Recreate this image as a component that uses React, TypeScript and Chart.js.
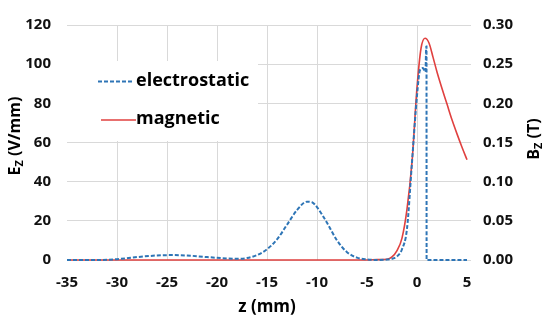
import React, { useEffect, useRef } from "react";
import { Chart, registerables } from "chart.js";

Chart.register(...registerables);

// Electrostatic field E_z (V/mm) vs z (mm)
const zElectro = [-35, -32, -30, -28, -26, -24.5, -23, -21, -19, -18, -17, -16, -15, -14, -13, -12, -11, -10.5, -10, -9, -8, -7, -6, -5, -4, -3, -2.5, -2, -1.5, -1, -0.5, 0, 0.3, 0.6, 0.85, 0.92, 0.95, 0.96, 5];
const eElectro = [0, 0, 0.4, 1.5, 2.3, 2.5, 2.3, 1.5, 0.8, 0.6, 1.0, 2.5, 5.5, 10.5, 18, 25.5, 29.8, 29.5, 27, 19, 10, 4, 1.2, 0.3, 0, 0.2, 0.6, 1.8, 5.5, 16, 50, 84, 97, 98, 96, 109, 109, 0, 0];

// Magnetic field B_z (T) vs z (mm)
const zMagnetic = [-35, -10, -5, -4, -3, -2.5, -2, -1.5, -1, -0.5, 0, 0.4, 0.8, 1.2, 1.6, 2, 2.5, 3, 3.5, 4, 4.5, 5];
const bMagnetic = [0, 0, 0, 0.0005, 0.001, 0.004, 0.012, 0.028, 0.065, 0.125, 0.22, 0.27, 0.283, 0.277, 0.259, 0.24, 0.219, 0.199, 0.179, 0.161, 0.144, 0.128];

const xTickValues = [-35, -30, -25, -20, -15, -10, -5, 0, 5];
const seriesNames = ["electrostatic", "magnetic"];
const xTitle = "z (mm)";

const BLUE = "#2E75B6";
const RED = "#E0403F";
const FONT = "'Open Sans', sans-serif";

const overlayPlugin = {
  id: "overlay",
  beforeDatasetsDraw(chart: any) {
    const { ctx, chartArea } = chart;
    ctx.save();
    ctx.fillStyle = "#ffffff";
    ctx.fillRect(chartArea.left, 61, 258 - chartArea.left, 80);
    ctx.restore();
  },
  afterDraw(chart: any) {
    const { ctx } = chart;
    ctx.save();
    // legend
    ctx.lineWidth = 2;
    ctx.strokeStyle = BLUE;
    ctx.setLineDash([4, 2]);
    ctx.beginPath();
    ctx.moveTo(98, 81.5);
    ctx.lineTo(134, 81.5);
    ctx.stroke();
    ctx.setLineDash([]);
    ctx.lineWidth = 1.5;
    ctx.strokeStyle = RED;
    ctx.beginPath();
    ctx.moveTo(101, 120);
    ctx.lineTo(136, 120);
    ctx.stroke();
    ctx.fillStyle = "#000";
    ctx.font = `bold 18px ${FONT}`;
    ctx.textBaseline = "middle";
    ctx.textAlign = "left";
    ctx.fillText(seriesNames[0], 136, 81);
    ctx.fillText(seriesNames[1], 136, 119);

    // axis titles with subscripts
    const drawRotTitle = (cx: number, cy: number, main: string, sub: string, rest: string) => {
      ctx.save();
      ctx.translate(cx, cy);
      ctx.rotate(-Math.PI / 2);
      const big = `bold 16px ${FONT}`;
      const small = `bold 11px ${FONT}`;
      ctx.font = big;
      const w1 = ctx.measureText(main).width;
      const w3 = ctx.measureText(rest).width;
      ctx.font = small;
      const w2 = ctx.measureText(sub).width;
      const total = w1 + w2 + w3;
      let x = -total / 2;
      ctx.textBaseline = "alphabetic";
      ctx.textAlign = "left";
      ctx.fillStyle = "#000";
      ctx.font = big;
      ctx.fillText(main, x, 6);
      x += w1;
      ctx.font = small;
      ctx.fillText(sub, x, 9);
      x += w2;
      ctx.font = big;
      ctx.fillText(rest, x, 6);
      ctx.restore();
    };
    drawRotTitle(14, 136, "E", "Z", " (V/mm)");
    drawRotTitle(533, 139, "B", "Z", " (T)");

    ctx.font = `bold 17px ${FONT}`;
    ctx.textAlign = "center";
    ctx.textBaseline = "middle";
    ctx.fillStyle = "#000";
    ctx.fillText(xTitle, 267, 307);
    ctx.restore();
  },
};

export default function App() {
  const canvasRef = useRef<HTMLCanvasElement | null>(null);

  useEffect(() => {
    if (!canvasRef.current) return;
    const tickFont = { family: FONT, size: 15, weight: "bold" as const };
    const chart = new Chart(canvasRef.current, {
      type: "line",
      data: {
        datasets: [
          {
            label: seriesNames[0],
            data: zElectro.map((z, i) => ({ x: z, y: eElectro[i] })),
            yAxisID: "y",
            borderColor: BLUE,
            borderWidth: 2,
            borderDash: [4, 2],
            pointRadius: 0,
            cubicInterpolationMode: "monotone",
            fill: false,
            clip: false,
          },
          {
            label: seriesNames[1],
            data: zMagnetic.map((z, i) => ({ x: z, y: bMagnetic[i] })),
            yAxisID: "y1",
            borderColor: RED,
            borderWidth: 1.6,
            pointRadius: 0,
            cubicInterpolationMode: "monotone",
            fill: false,
            clip: false,
          },
        ],
      },
      options: {
        animation: false,
        responsive: false,
        maintainAspectRatio: false,
        layout: { padding: { top: 19, left: 0, right: 0, bottom: 0 } },
        plugins: { legend: { display: false }, tooltip: { enabled: false } },
        scales: {
          x: {
            type: "linear",
            min: -35,
            max: 5.4,
            afterBuildTicks: (s: any) => {
              s.ticks = xTickValues.map((v) => ({ value: v }));
            },
            afterFit: (s: any) => {
              s.height = 62;
            },
            ticks: { font: tickFont, color: "#111", padding: 14, maxRotation: 0, autoSkip: false },
            grid: {
              drawTicks: false,
              color: (c: any) => (c.tick && (c.tick.value <= -35 || c.tick.value >= 5) ? "rgba(0,0,0,0)" : "#d9d9d9"),
            },
            border: { display: false },
          },
          y: {
            position: "left",
            min: 0,
            max: 120,
            afterFit: (s: any) => {
              s.width = 67;
            },
            ticks: { stepSize: 20, font: tickFont, color: "#111", padding: 16 },
            grid: { drawTicks: false, color: "#d9d9d9" },
            border: { display: false },
          },
          y1: {
            position: "right",
            min: 0,
            max: 0.3,
            afterFit: (s: any) => {
              s.width = 79;
            },
            ticks: { stepSize: 0.05, font: tickFont, color: "#111", padding: 12, callback: (v: any) => Number(v).toFixed(2) },
            grid: { display: false, drawTicks: false },
            border: { display: false },
          },
        },
      },
      plugins: [overlayPlugin],
    } as any);
    return () => chart.destroy();
  }, []);

  return (
    <div style={{ position: "fixed", left: 0, top: 0, width: 550, height: 322, background: "#fff" }}>
      <canvas ref={canvasRef} width={550} height={322} style={{ width: 550, height: 322 }} />
    </div>
  );
}
